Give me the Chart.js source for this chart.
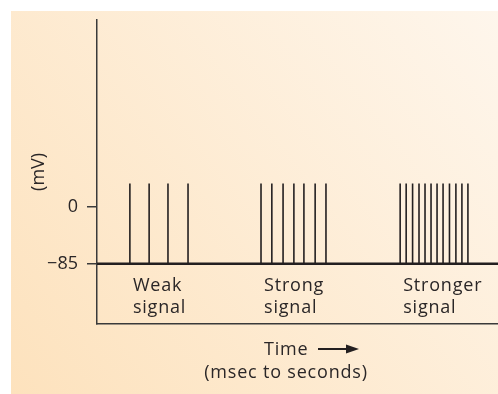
<!DOCTYPE html>
<html>
<head>
<meta charset="utf-8">
<script src="https://cdn.jsdelivr.net/npm/chart.js@4.4.0/dist/chart.umd.min.js"></script>
<style>
  html, body { margin: 0; padding: 0; background: #fff; }
  #wrap { width: 498px; height: 394px; }
</style>
</head>
<body>
<div id="wrap"><canvas id="myChart" width="498" height="394"></canvas></div>
<script>
// Data (time in arbitrary units 0-100, membrane potential in mV)
const restingPotential = -85
const spikePeak = 35
const weakSpikes = [8.2, 13.0, 17.7, 22.7]
const strongSpikes = [40.9, 43.6, 46.4, 49.1, 51.6, 54.4, 57.1]
const strongerSpikes = [75.6, 77.1, 78.7, 80.3, 81.8, 83.3, 84.8, 86.3, 87.9, 89.5, 91.0, 92.5]
const groupNames = [['Weak', 'signal'], ['Strong', 'signal'], ['Stronger', 'signal']]
const yTicks = [-85, 0]

const ink = '#231f20'
const textInk = '#2a2627'
const fontFamily = '"Open Sans", "Noto Sans", sans-serif'
const groups = [weakSpikes, strongSpikes, strongerSpikes]

// one little line dataset per spike
const datasets = []
groups.forEach(function(g){
  g.forEach(function(t){
    datasets.push({
      data: [{x: t, y: restingPotential}, {x: t, y: spikePeak}],
      borderColor: ink,
      borderWidth: 1.6,
      pointRadius: 0,
      showLine: true
    })
  })
})
// resting line
datasets.push({
  data: [{x: 0, y: restingPotential}, {x: 100, y: restingPotential}],
  borderColor: ink,
  borderWidth: 2.5,
  pointRadius: 0,
  showLine: true,
  borderCapStyle: 'butt'
})

const bgPlugin = {
  id: 'bg',
  beforeDraw(chart){
    const ctx = chart.ctx
    ctx.save()
    ctx.fillStyle = '#ffffff'
    ctx.fillRect(0, 0, chart.width, chart.height)
    const grad = ctx.createLinearGradient(11, chart.height, chart.width, 11)
    grad.addColorStop(0, '#fde2bd')
    grad.addColorStop(1, '#fef6ec')
    ctx.fillStyle = grad
    ctx.fillRect(11, 11, chart.width - 11, chart.height - 11)
    ctx.restore()
  }
}

const labelPlugin = {
  id: 'labels',
  afterDraw(chart){
    const ctx = chart.ctx
    const xs = chart.scales.x, ys = chart.scales.y
    ctx.save()
    ctx.fillStyle = textInk
    ctx.font = '18px ' + fontFamily
    ctx.letterSpacing = '0.8px'
    ctx.textBaseline = 'middle'
    ctx.textAlign = 'left'
    const base = ys.getPixelForValue(restingPotential)
    groups.forEach(function(g, i){
      const x = xs.getPixelForValue(g[0]) + 3
      ctx.fillText(groupNames[i][0], x, base + 22)
      ctx.fillText(groupNames[i][1], x, base + 44)
    })
    // x axis title with arrow
    ctx.fillText('Time', 264, 350)
    ctx.strokeStyle = ink
    ctx.lineWidth = 2
    ctx.beginPath()
    ctx.moveTo(318, 349)
    ctx.lineTo(350, 349)
    ctx.stroke()
    ctx.fillStyle = ink
    ctx.beginPath()
    ctx.moveTo(359, 349)
    ctx.lineTo(346, 344.5)
    ctx.lineTo(346, 353.5)
    ctx.closePath()
    ctx.fill()
    ctx.fillStyle = textInk
    ctx.textAlign = 'center'
    ctx.fillText('(msec to seconds)', 286, 373)
    ctx.restore()
  }
}

const config = {
  type: 'scatter',
  data: { datasets },
  plugins: [bgPlugin, labelPlugin],
  options: {
    responsive: false,
    animation: false,
    layout: { padding: { top: 12, left: 0, right: 0, bottom: 0 } },
    plugins: { legend: { display: false }, tooltip: { enabled: false } },
    scales: {
      x: {
        type: 'linear',
        min: 0,
        max: 100,
        grid: { display: false, drawTicks: false },
        border: { display: true, color: '#3a3a3a', width: 1.5 },
        ticks: { display: false },
        afterFit(scale){ scale.height = 70 }
      },
      y: {
        type: 'linear',
        min: -175,
        max: 280,
        afterBuildTicks(scale){ scale.ticks = yTicks.map(v => ({value: v})) },
        ticks: {
          color: textInk,
          font: { size: 18, family: fontFamily },
          padding: 9,
          callback: v => v < 0 ? '\u2212' + Math.abs(v) : String(v)
        },
        grid: { display: true, drawOnChartArea: false, drawTicks: true, tickLength: 10, color: '#3a3a3a', lineWidth: 1.5 },
        border: { display: true, color: '#3a3a3a', width: 1.5 },
        title: {
          display: true,
          text: '(mV)',
          color: textInk,
          font: { size: 18, family: fontFamily, lineHeight: 1.2 },
          padding: { top: 28, bottom: 0 }
        },
        afterFit(scale){ scale.width = 97 }
      }
    }
  }
}

const myChart = new Chart(document.getElementById('myChart'), config)
</script>
</body>
</html>
